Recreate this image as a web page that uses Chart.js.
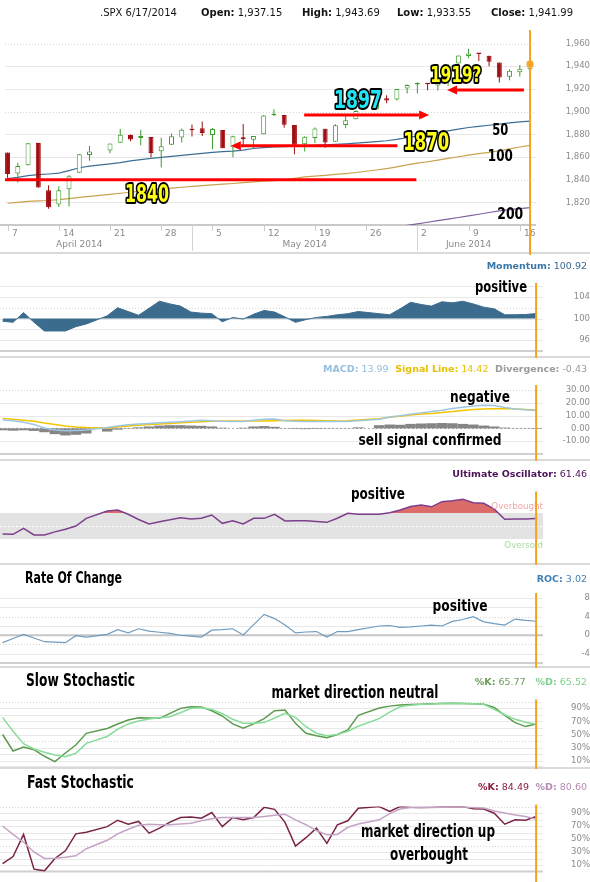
<!DOCTYPE html>
<html>
<head>
<meta charset="utf-8">
<title>.SPX 6/17/2014</title>
<script src="https://cdn.jsdelivr.net/npm/chart.js@4.4.1/dist/chart.umd.min.js"></script>
<style>
  html, body { margin: 0; padding: 0; background: #fff; }
  #board { position: relative; width: 590px; height: 882px; overflow: hidden; background: #fff; }
  #board canvas { position: absolute; left: 0; }
</style>
</head>
<body>
<div id="board">
  <canvas id="pPrice" width="590" height="255" style="top:0px"></canvas>
  <canvas id="pMom"   width="590" height="103" style="top:255px"></canvas>
  <canvas id="pMacd"  width="590" height="103" style="top:358px"></canvas>
  <canvas id="pUlt"   width="590" height="104" style="top:461px"></canvas>
  <canvas id="pRoc"   width="590" height="103" style="top:565px"></canvas>
  <canvas id="pSlow"  width="590" height="101" style="top:668px"></canvas>
  <canvas id="pFast"  width="590" height="113" style="top:769px"></canvas>
</div>
<script>
// ---------------- data ----------------
const symbol = '.SPX';
const dates = [
  '2014-04-07','2014-04-08','2014-04-09','2014-04-10','2014-04-11',
  '2014-04-14','2014-04-15','2014-04-16','2014-04-17',
  '2014-04-21','2014-04-22','2014-04-23','2014-04-24','2014-04-25',
  '2014-04-28','2014-04-29','2014-04-30','2014-05-01','2014-05-02',
  '2014-05-05','2014-05-06','2014-05-07','2014-05-08','2014-05-09',
  '2014-05-12','2014-05-13','2014-05-14','2014-05-15','2014-05-16',
  '2014-05-19','2014-05-20','2014-05-21','2014-05-22','2014-05-23',
  '2014-05-27','2014-05-28','2014-05-29','2014-05-30',
  '2014-06-02','2014-06-03','2014-06-04','2014-06-05','2014-06-06',
  '2014-06-09','2014-06-10','2014-06-11','2014-06-12','2014-06-13',
  '2014-06-16','2014-06-17'
];
const open = [
  1863.92, 1845.48, 1852.64, 1872.28, 1830.65,
  1818.18, 1831.45, 1846.01, 1861.73,
  1865.79, 1872.57, 1879.32, 1876.66, 1877.72,
  1865.00, 1870.78, 1877.10, 1884.39, 1885.30,
  1879.45, 1883.69, 1868.53, 1877.39, 1875.27,
  1880.03, 1896.75, 1897.13, 1888.16, 1871.19,
  1876.66, 1884.88, 1873.34, 1888.19, 1893.32,
  1902.01, 1911.77, 1910.60, 1920.33,
  1923.87, 1925.00, 1923.06, 1928.52, 1942.41,
  1948.97, 1951.00, 1949.37, 1943.35, 1930.80,
  1934.84, 1937.15
];
const high = [
  1864.04, 1854.95, 1872.43, 1872.53, 1835.07,
  1834.19, 1844.02, 1862.31, 1869.63,
  1871.89, 1884.89, 1879.75, 1884.06, 1877.72,
  1877.01, 1880.60, 1885.20, 1888.59, 1891.33,
  1885.51, 1883.69, 1878.83, 1889.07, 1878.57,
  1897.13, 1902.17, 1897.13, 1888.16, 1878.28,
  1886.00, 1884.88, 1888.80, 1896.33, 1901.26,
  1912.28, 1914.46, 1920.03, 1924.03,
  1925.88, 1925.07, 1928.63, 1941.74, 1949.44,
  1955.55, 1950.86, 1949.37, 1943.35, 1937.30,
  1941.15, 1943.69
];
const low = [
  1841.48, 1837.49, 1852.38, 1832.90, 1814.36,
  1815.80, 1816.29, 1846.01, 1856.72,
  1863.18, 1872.57, 1873.91, 1870.24, 1859.70,
  1850.61, 1870.78, 1872.69, 1878.04, 1878.50,
  1866.77, 1867.72, 1859.79, 1870.05, 1867.02,
  1880.03, 1896.06, 1885.77, 1862.36, 1864.82,
  1872.42, 1868.14, 1873.34, 1885.39, 1893.32,
  1902.01, 1907.30, 1909.82, 1915.98,
  1915.98, 1918.79, 1918.60, 1922.93, 1942.41,
  1947.16, 1944.64, 1940.08, 1925.78, 1927.69,
  1930.91, 1933.55
];
const close = [
  1845.04, 1851.96, 1872.18, 1833.08, 1815.69,
  1830.61, 1842.98, 1862.31, 1864.85,
  1871.89, 1879.55, 1875.39, 1878.61, 1863.40,
  1869.43, 1878.33, 1883.95, 1883.68, 1881.14,
  1884.66, 1867.72, 1878.21, 1875.63, 1878.48,
  1896.65, 1897.45, 1888.53, 1870.85, 1877.86,
  1885.08, 1872.83, 1888.03, 1892.49, 1900.53,
  1911.91, 1909.78, 1920.03, 1923.57,
  1924.97, 1924.24, 1927.88, 1940.46, 1949.44,
  1951.27, 1950.79, 1943.89, 1930.11, 1936.16,
  1937.78, 1941.99
];
const ma50 = [
  1841, 1842, 1843.5, 1844.5, 1845, 1845.7, 1848, 1850.5, 1852,
  1854, 1855, 1856.5, 1857.7, 1858.7, 1859.7, 1860.5, 1861.4, 1862.3, 1863.2,
  1864.1, 1864.7, 1865.2, 1866, 1867.5, 1868.3, 1868.8, 1869.1, 1869.5, 1869.9,
  1870.3, 1870.7, 1871.1, 1871.6, 1872.2,
  1873.5, 1874.3, 1875.5, 1877,
  1878.5, 1880, 1881.5, 1883, 1884.5,
  1886, 1887, 1888, 1889, 1890,
  1891, 1891.7
];
const ma100 = [
  1819.2, 1820, 1820.8, 1821.3, 1821.6, 1822.3, 1823.2, 1824.3, 1825.3,
  1827, 1828, 1828.9, 1829.9, 1830.8, 1831.7, 1832.5, 1833.3, 1834, 1834.8,
  1835.4, 1836, 1836.6, 1837.3, 1838, 1838.6, 1839.2, 1840, 1841.2, 1842.4,
  1843.1, 1843.8, 1844.6, 1845.4, 1846.3,
  1848.5, 1849.8, 1851.3, 1853,
  1854.6, 1855.8, 1857.2, 1858.7, 1860.2,
  1861.7, 1862.9, 1864, 1865.5, 1867.2,
  1868.8, 1870.3
];
const ma200 = [
  null, null, null, null, null, null, null, null, null,
  null, null, null, null, null, null, null, null, null, null,
  null, null, null, null, null, null, null, null, null, null,
  null, null, null, null, null,
  null, null, null, 1799.6,
  1801, 1802.4, 1803.8, 1805.2, 1806.6,
  1808, 1809.5, 1811, 1812.4, 1813.6,
  1814.5, 1815.3
];
const priceTicks = [1820, 1840, 1860, 1880, 1900, 1920, 1940, 1960];
const weekTicks = ['2014-04-07','2014-04-14','2014-04-21','2014-04-28','2014-05-05','2014-05-12',
                   '2014-05-19','2014-05-26','2014-06-02','2014-06-09','2014-06-16'];
const monthNames = ['April 2014', 'May 2014', 'June 2014'];
const monthLabelDates = ['2014-04-16', '2014-05-16', '2014-06-09'];
const levelValues = [1840, 1870, 1897, 1919];
const levelTexts = ['1840', '1870', '1897', '1919?'];

const momentum = [
  99.5, 99.3, 101.1, 99.3, 97.7, 97.7, 97.7, 98.5, 99.0,
  100.5, 102.0, 101.3, 100.6, 101.9, 103.2, 102.7, 102.3, 101.2, 101.0,
  100.9, 99.4, 100.2, 99.9, 100.8, 101.5, 101.2, 100.3, 99.3, 99.8,
  100.2, 100.4, 100.7, 100.9, 101.3,
  100.9, 100.7, 101.8, 103.0,
  102.6, 102.3, 103.1, 102.9, 103.2,
  102.7, 102.1, 101.8, 100.7, 100.7,
  100.75, 100.92
];
const momentumTicks = [96, 100, 104];

const macdLine = [
  6.5, 5.9, 4.8, 3.0, 0.3, -1.2, -1.9, -1.6, -1.2,
  0.6, 1.8, 2.9, 3.4, 3.9, 4.3, 4.7, 5.2, 5.8, 6.4,
  6.0, 5.5, 5.3, 5.4, 6.4, 7.2, 7.3, 6.0, 5.5, 5.3,
  5.3, 5.3, 5.3, 5.4, 6.0,
  7.2, 8.8, 9.8, 11.0,
  12.1, 13.2, 14.2, 15.5, 16.5,
  17.4, 18.1, 17.8, 16.3, 15.2,
  14.5, 13.99
];
const signalLine = [
  7.8, 7.1, 6.4, 5.6, 4.2, 3.0, 1.8, 1.0, 0.6,
  0.2, 1.0, 1.9, 2.5, 3.0, 3.4, 3.9, 4.4, 4.8, 5.2,
  5.5, 5.7, 5.8, 5.8, 5.8, 5.8, 6.0, 6.2, 6.4, 6.4,
  6.2, 6.0, 5.8, 5.9, 6.6,
  7.5, 8.6, 9.4, 10.4,
  11.2, 11.7, 12.3, 13.1, 13.9,
  14.7, 15.2, 15.4, 15.5, 15.2,
  14.8, 14.42
];
const divergence = [
  -1.5, -1.8, -1.5, -2.0, -3.0, -4.5, -5.5, -5.0, -4.0,
  -2.5, -1.0, 0.3, 0.8, 1.5, 2.2, 2.5, 2.5, 2.2, 2.0,
  1.5, 0.5, 0.0, 0.5, 1.5, 1.8, 1.2, 0.2, -0.5, -0.6,
  -0.5, -0.3, -0.2, 0.2, 0.8,
  2.5, 3.0, 2.8, 3.5,
  3.8, 4.0, 4.2, 4.0, 3.5,
  3.0, 2.2, 1.5, 0.6, 0.2,
  -0.2, -0.43
];
const macdTicks = [-10, 0, 10, 20, 30];

const ultimate = [
  37.6, 37.2, 46.4, 36.2, 36.2, 41.0, 45.0, 50.0, 61.8,
  73.1, 74.6, 68.0, 60.0, 53.1, 56.7, 59.5, 62.8, 60.8, 61.8,
  66.9, 54.1, 58.2, 53.1, 61.8, 61.8, 68.0, 57.7, 58.0, 58.2,
  57.0, 55.6, 62.0, 69.5, 68.0,
  68.0, 70.5, 74.6, 80.0,
  82.3, 79.5, 87.4, 89.0, 91.0,
  85.9, 84.9, 76.0, 60.3, 60.8,
  60.8, 61.46
];
const ultimateBands = [30, 70];

const roc = [
  -1.6, -0.7, 0.2, -0.6, -1.4, -1.5, -1.6, -0.1, -0.4,
  0.2, 1.2, 0.5, 1.4, 0.9, 0.65, 0.4, 0.0, -0.2, -0.4,
  1.1, 1.2, 1.4, 0.07, 2.3, 4.5, 3.6, 2.2, 0.5, 0.7,
  0.8, -0.4, 0.8, 0.8, 1.2,
  2.0, 2.1, 1.7, 1.8,
  2.0, 2.2, 2.0, 3.0, 3.4,
  4.0, 2.9, 2.5, 2.2, 3.5,
  3.2, 3.02
];
const rocTicks = [-4, 0, 4, 8];

const slowK = [
  50, 25, 31, 27, 17, 9, 22, 34, 51.8,
  59, 66, 72, 75.5, 75, 74.5, 82, 89.6, 92.1, 91.5,
  86, 78, 66, 59.5, 66, 74, 86, 87, 66.9, 51.8,
  48, 45.2, 50, 56.8, 79,
  90, 93, 94.7, 95.5,
  96, 96.5, 97, 97.3, 97,
  96.5, 95.7, 91, 79, 68,
  62, 65.77
];
const slowD = [
  76, 55, 36, 28, 23, 19, 16.4, 21.5, 36.6,
  47, 58, 66, 70.5, 73.5, 75.5, 77, 83, 89.6, 90.5,
  88, 81.5, 73, 67, 66.9, 68, 75, 82, 76, 61.8,
  52, 48, 50, 55, 62.5,
  74, 84, 92, 94.5,
  95.7, 96.2, 96.8, 97.2, 97,
  96.5, 95.7, 88, 80, 73,
  68.5, 65.52
];
const fastK = [
  12, 23, 57, 3.6, 1, 20, 31.8, 57.9, 60.5,
  69, 78.9, 72.8, 77, 59, 66.7, 76, 83, 84, 82,
  90.8, 69, 83, 79.5, 83, 98.7, 95.6, 75.6, 39, 52,
  66.7, 43.3, 71.8, 78, 97.4,
  99.9, 92.3, 99.9, 99,
  98.5, 99, 99.5, 99.7, 99.9,
  96.4, 96, 89.7, 72.8, 79.5,
  79, 84.49
];
const fastD = [
  70, 57, 45, 30, 20, 20.3, 22, 24.1, 35,
  48, 58, 65, 71, 72.5, 72, 71.8, 73, 74.4, 78,
  81, 83, 83.1, 83.1, 83.1, 84.5, 86.5, 88, 79.5, 72,
  63, 56.4, 57, 68, 73,
  79.5, 89, 96, 98.5,
  98.7, 98.5, 98.8, 99.2, 99.4,
  98.5, 97.6, 93, 90, 87,
  84.7, 80.6
];
const stochTicks = [10, 30, 50, 70, 90];

// ---------------- helpers ----------------
const FONT = '"DejaVu Sans", Verdana, sans-serif';
const COND = '"Liberation Sans Narrow", "DejaVu Sans Condensed", "Liberation Sans", Arial, sans-serif';
const ORANGE = '#f7a21b';
const UP = '#3d9b2b', DOWN = '#a00d12';

// weekday slot: Monday of the first week is 0, one slot per weekday (holidays leave a gap)
const t0 = Date.UTC(2014, 3, 7);
function slotOf(d) {
  const [y, m, dd] = d.split('-').map(Number);
  const days = Math.round((Date.UTC(y, m - 1, dd) - t0) / 864e5);
  return Math.floor(days / 7) * 5 + (days % 7);
}
const slots = dates.map(slotOf);
const last = dates.length - 1;
const series = arr => arr.map((v, i) => ({ x: slots[i], y: v })).filter(p => p.y != null);

const X_MIN = -0.25, PRICE_X_MAX = 51.58, IND_X_MAX = 51.66;
const PRICE_RIGHT = 536, IND_RIGHT = 543;

const mctx = document.createElement('canvas').getContext('2d');
function textWidth(t, font) { mctx.font = font; return mctx.measureText(t).width; }
const crisp = v => Math.round(v) + 0.5;

function hLine(ctx, x0, x1, y, color, w, dash) {
  ctx.save();
  ctx.strokeStyle = color; ctx.lineWidth = w;
  ctx.setLineDash(dash || []);
  ctx.beginPath(); ctx.moveTo(x0, y); ctx.lineTo(x1, y); ctx.stroke();
  ctx.restore();
}
function vLine(ctx, x, y0, y1, color, w) {
  ctx.save();
  ctx.strokeStyle = color; ctx.lineWidth = w;
  ctx.beginPath(); ctx.moveTo(x, y0); ctx.lineTo(x, y1); ctx.stroke();
  ctx.restore();
}
// bold condensed caption squeezed to a given width, centred on (cx, cy)
function fitText(ctx, text, cx, cy, w, size, fill, stroke, lw) {
  ctx.save();
  ctx.font = `bold ${size}px ${COND}`;
  const m = ctx.measureText(text);
  const sx = w / m.width;
  ctx.translate(cx, cy + (m.actualBoundingBoxAscent - m.actualBoundingBoxDescent) / 2);
  ctx.scale(sx, 1);
  ctx.textAlign = 'center'; ctx.textBaseline = 'alphabetic';
  if (stroke) {
    ctx.lineJoin = 'round'; ctx.lineWidth = lw; ctx.strokeStyle = stroke;
    ctx.strokeText(text, 0, 0);
  }
  ctx.fillStyle = fill; ctx.fillText(text, 0, 0);
  ctx.restore();
}
// right-aligned run of label/value pieces
function readout(ctx, parts, right, y, size) {
  ctx.save();
  ctx.textBaseline = 'middle'; ctx.textAlign = 'left';
  let x = right;
  for (let i = parts.length - 1; i >= 0; i--) {
    const p = parts[i];
    ctx.font = `${p.b ? 'bold ' : ''}${size}px ${FONT}`;
    x -= ctx.measureText(p.t).width;
    ctx.fillStyle = p.c;
    ctx.fillText(p.t, x, y);
  }
  ctx.restore();
}
function arrowLine(ctx, x0, x1, y, withHead) {
  ctx.save();
  ctx.strokeStyle = ctx.fillStyle = '#ff0000';
  ctx.lineWidth = 3;
  const head = withHead ? 10 : 0, half = 4.5, s = Math.sign(x1 - x0);
  ctx.beginPath(); ctx.moveTo(x0, y); ctx.lineTo(x1 - s * head, y); ctx.stroke();
  if (withHead) {
    ctx.beginPath();
    ctx.moveTo(x1, y); ctx.lineTo(x1 - s * head, y - half); ctx.lineTo(x1 - s * head, y + half);
    ctx.closePath(); ctx.fill();
  }
  ctx.restore();
}

function xAxis(max) {
  return { type: 'linear', min: X_MIN, max, display: false, offset: false };
}
function yAxis({ min, max, ticks, fmt, labelRight, plotRight }) {
  const size = 8.5;
  const widest = Math.max(...ticks.map(v => textWidth(fmt(v), `${size}px ${FONT}`)));
  return {
    position: 'right', min, max,
    grid: { display: false, drawTicks: false },
    border: { display: false },
    afterBuildTicks: s => { s.ticks = ticks.map(v => ({ value: v })); },
    afterFit: s => { s.width = 590 - plotRight; s.paddingTop = 0; s.paddingBottom = 0; },
    ticks: {
      callback: v => fmt(v), color: '#8c8c8c', font: { family: FONT, size },
      padding: labelRight - plotRight - widest, crossAlign: 'far', autoSkip: false, maxRotation: 0
    }
  };
}
const baseOptions = (padding, scales) => ({
  responsive: false, animation: false, events: [],
  layout: { padding },
  plugins: { legend: { display: false }, tooltip: { enabled: false } },
  elements: { point: { radius: 0 }, line: { tension: 0 } },
  scales
});

// ---------------- price panel ----------------
const upDay = close.map((c, i) => c >= open[i]);
const candleColor = upDay.map(u => (u ? UP : DOWN));
const bodyFill = upDay.map(u => (u ? '#ffffff' : DOWN));

const levelMarks = [
  { from: X_MIN, to: 39.9, head: false, at: [13.6, 1828.2], fill: '#ffff14', size: 24, w: 44 },
  { from: 38.05, to: 21.8, head: true, at: [40.86, 1874.1], fill: '#ffff14', size: 24, w: 46 },
  { from: 28.95, to: 41.15, head: true, at: [34.2, 1911.1], fill: '#1fe6f4', size: 24, w: 48 },
  { from: 50.4, to: 42.9, head: true, at: [43.75, 1933.2], fill: '#ffff14', size: 21, w: 51 }
];
const maLabels = [
  { text: '50', at: [48.1, 1884.7], w: 16 },
  { text: '100', at: [48.1, 1861.7], w: 25 },
  { text: '200', at: [49.07, 1810.6], w: 26 }
];

const pricePlugin = {
  id: 'priceDeco',
  beforeDatasetsDraw(chart) {
    const { ctx, chartArea: a, scales: { x, y } } = chart;
    priceTicks.forEach(v => {
      const dotted = (v - 1840) % 60 === 0;
      hLine(ctx, a.left, a.right, crisp(y.getPixelForValue(v)), dotted ? '#d6d6d6' : '#e8e8e8', 1, dotted ? [1, 2] : null);
    });
    // time axis
    const base = a.bottom;
    hLine(ctx, 0, a.right, base, '#c9c9c9', 2);
    ctx.save();
    ctx.font = `9px ${FONT}`; ctx.fillStyle = '#8a8a8a'; ctx.textBaseline = 'middle';
    weekTicks.forEach(d => {
      const px = crisp(x.getPixelForValue(slotOf(d)));
      vLine(ctx, px, base, base + 6, '#cccccc', 1);
      ctx.textAlign = 'left';
      ctx.fillText(String(Number(d.slice(8))), px + 3.5, base + 9);
    });
    dates.forEach((d, i) => {
      if (i > 0 && d.slice(5, 7) !== dates[i - 1].slice(5, 7)) {
        vLine(ctx, crisp(x.getPixelForValue(slots[i])), base, base + 26, '#d4d4d4', 1);
      }
    });
    ctx.textAlign = 'center';
    monthNames.forEach((m, i) => ctx.fillText(m, x.getPixelForValue(slotOf(monthLabelDates[i])), base + 20));
    ctx.restore();
  },
  afterDatasetsDraw(chart) {
    const { ctx, chartArea: a, scales: { x, y }, width, height } = chart;
    levelMarks.forEach((lm, i) => {
      arrowLine(ctx, x.getPixelForValue(lm.from), x.getPixelForValue(lm.to), y.getPixelForValue(levelValues[i]), lm.head);
    });
    maLabels.forEach(l => fitText(ctx, l.text, x.getPixelForValue(l.at[0]), y.getPixelForValue(l.at[1]), l.w, 15, '#000'));
    levelMarks.forEach((lm, i) => {
      fitText(ctx, levelTexts[i], x.getPixelForValue(lm.at[0]), y.getPixelForValue(lm.at[1]), lm.w, lm.size, lm.fill, '#000', 4);
    });
    // quote header
    const fmt = v => v.toLocaleString('en-US', { minimumFractionDigits: 2, maximumFractionDigits: 2 });
    const [yy, mm, dd] = dates[last].split('-').map(Number);
    const head = [
      { x: 100, parts: [{ t: `${symbol} ${mm}/${dd}/${yy}` }] },
      { x: 201, parts: [{ t: 'Open:', b: true }, { t: ' ' + fmt(open[last]) }] },
      { x: 302, parts: [{ t: 'High:', b: true }, { t: ' ' + fmt(high[last]) }] },
      { x: 397, parts: [{ t: 'Low:', b: true }, { t: ' ' + fmt(low[last]) }] },
      { x: 491, parts: [{ t: 'Close:', b: true }, { t: ' ' + fmt(close[last]) }] }
    ];
    ctx.save();
    ctx.textBaseline = 'middle'; ctx.textAlign = 'left'; ctx.fillStyle = '#141414';
    head.forEach(h => {
      let hx = h.x;
      h.parts.forEach(p => {
        ctx.font = `${p.b ? 'bold ' : ''}10px ${FONT}`;
        ctx.fillText(p.t, hx, 13);
        hx += ctx.measureText(p.t).width;
      });
    });
    ctx.restore();
    ctx.fillStyle = '#dadada'; ctx.fillRect(0, height - 3, width, 2);
    vLine(ctx, x.getPixelForValue(slots[last]), a.top, height, ORANGE, 2);
  }
};

new Chart(document.getElementById('pPrice'), {
  type: 'bar',
  data: {
    datasets: [
      { type: 'line', data: series(ma200), borderColor: '#80609f', borderWidth: 1.2, pointRadius: 0, order: 6 },
      { type: 'line', data: series(ma100), borderColor: '#c9a24e', borderWidth: 1.2, pointRadius: 0, order: 5 },
      { type: 'line', data: series(ma50), borderColor: '#3d6f96', borderWidth: 1.2, pointRadius: 0, order: 4 },
      {
        type: 'bar', data: dates.map((d, i) => ({ x: slots[i], y: [low[i], high[i]] })),
        backgroundColor: candleColor, borderWidth: 0, barThickness: 1, grouped: false, inflateAmount: 0, order: 3
      },
      {
        type: 'bar', data: dates.map((d, i) => ({ x: slots[i], y: [open[i], close[i]] })),
        backgroundColor: bodyFill, borderColor: candleColor, borderWidth: 1, borderSkipped: false,
        barThickness: 5, grouped: false, minBarLength: 1.5, inflateAmount: 0, order: 2
      },
      {
        type: 'line', data: [{ x: slots[last], y: close[last] }], showLine: false,
        pointRadius: 3.5, pointStyle: 'rectRounded', backgroundColor: '#f6a531', borderColor: '#f6a531', order: 0
      }
    ]
  },
  options: baseOptions({ left: 0, right: 0, top: 30, bottom: 30 }, {
    x: xAxis(PRICE_X_MAX),
    y: yAxis({ min: 1800, max: 1972, ticks: priceTicks, fmt: v => v.toLocaleString('en-US'), labelRight: 565, plotRight: PRICE_RIGHT })
  }),
  plugins: [pricePlugin]
});

// ---------------- indicator panels ----------------
function decoPlugin(spec) {
  return {
    id: 'deco',
    beforeDatasetsDraw(chart) {
      const { ctx, chartArea: a, scales: { y } } = chart;
      if (spec.band) {
        const yt = y.getPixelForValue(spec.band[1]), yb = y.getPixelForValue(spec.band[0]);
        ctx.save(); ctx.fillStyle = '#e3e3e3'; ctx.fillRect(a.left, yt, a.right - a.left, yb - yt); ctx.restore();
        hLine(ctx, a.left, a.right, crisp(y.getPixelForValue((spec.band[0] + spec.band[1]) / 2)), '#ffffff', 1, [2, 2]);
      }
      (spec.grid || []).forEach(v => {
        const dotted = (spec.dotted || []).includes(v);
        hLine(ctx, a.left, a.right, crisp(y.getPixelForValue(v)), dotted ? '#d4d4d4' : '#e8e8e8', 1, dotted ? [1, 2] : null);
      });
      if (spec.zero) hLine(ctx, a.left, a.right, y.getPixelForValue(0), spec.zero.color, spec.zero.width, spec.zero.dash);
      if (spec.axisLine) hLine(ctx, a.left, a.right, a.bottom, '#cfcfcf', 2);
    },
    afterDatasetsDraw(chart) {
      const { ctx, chartArea: a, scales: { x }, width, height } = chart;
      (spec.texts || []).forEach(t => fitText(ctx, t.text, t.cx, t.cy, t.w, t.size, '#000'));
      (spec.notes || []).forEach(n => {
        ctx.save();
        ctx.font = `8.7px ${FONT}`; ctx.fillStyle = n.color; ctx.textAlign = 'right'; ctx.textBaseline = 'middle';
        ctx.fillText(n.text, a.right, n.y);
        ctx.restore();
      });
      readout(ctx, spec.readout, 587, spec.readoutY, 9.5);
      if (spec.separator !== false) { ctx.fillStyle = '#dadada'; ctx.fillRect(0, height - 2, width, 2); }
      vLine(ctx, x.getPixelForValue(slots[last]), a.top - 2, height, ORANGE, 2);
    }
  };
}
function indicatorChart(id, { top, height, plotTop, plotBottom, y, datasets, deco }) {
  const padRight = y.display === false ? 590 - IND_RIGHT : 0;
  return new Chart(document.getElementById(id), {
    type: 'line',
    data: { datasets },
    options: baseOptions({ left: 0, right: padRight, top: plotTop - top, bottom: top + height - plotBottom }, { x: xAxis(IND_X_MAX), y }),
    plugins: [decoPlugin(deco)]
  });
}
const v2 = v => v.toFixed(2);

// Momentum
indicatorChart('pMom', {
  top: 255, height: 103, plotTop: 285, plotBottom: 351,
  y: yAxis({ min: 94, max: 106.2, ticks: momentumTicks, fmt: v => String(v), labelRight: 565, plotRight: IND_RIGHT }),
  datasets: [{
    data: series(momentum), borderColor: '#3b6c8e', borderWidth: 1, backgroundColor: '#3b6c8e',
    fill: { value: 100 }
  }],
  deco: {
    grid: [96, 98, 100, 102, 104, 106], dotted: [102], axisLine: true,
    texts: [{ text: 'positive', cx: 501, cy: 32, w: 52, size: 16 }],
    readout: [{ t: 'Momentum:', b: true, c: '#3a78aa' }, { t: ' ' + v2(momentum[last]), c: '#3a6a94' }],
    readoutY: 12
  }
});

// MACD
indicatorChart('pMacd', {
  top: 358, height: 103, plotTop: 387, plotBottom: 454,
  y: yAxis({ min: -20, max: 32.3, ticks: macdTicks, fmt: v => v.toFixed(2), labelRight: 576, plotRight: IND_RIGHT }),
  datasets: [
    { type: 'bar', data: series(divergence), backgroundColor: '#858585', barPercentage: 1, categoryPercentage: 1, grouped: false, inflateAmount: 0, order: 3 },
    { data: series(signalLine), borderColor: '#f2c500', borderWidth: 1.5, order: 2 },
    { data: series(macdLine), borderColor: '#9dc6e3', borderWidth: 1.5, order: 1 }
  ],
  deco: {
    grid: [30, 20, 10, -10], dotted: [30], axisLine: true,
    zero: { color: '#a8a8a8', width: 1, dash: [2, 2] },
    texts: [
      { text: 'negative', cx: 480, cy: 39, w: 60, size: 16 },
      { text: 'sell signal confirmed', cx: 430, cy: 82, w: 143, size: 16 }
    ],
    readout: [
      { t: 'MACD:', b: true, c: '#94c1e0' }, { t: ' ' + v2(macdLine[last]), c: '#94c1e0' },
      { t: '  Signal Line:', b: true, c: '#e6bf00' }, { t: ' ' + v2(signalLine[last]), c: '#e6bf00' },
      { t: '  Divergence:', b: true, c: '#9a9a9a' }, { t: ' ' + v2(divergence[last]), c: '#9a9a9a' }
    ],
    readoutY: 12
  }
});

// Ultimate Oscillator
indicatorChart('pUlt', {
  top: 461, height: 104, plotTop: 493.5, plotBottom: 558.5,
  y: { display: false, min: 0, max: 100 },
  datasets: [{
    data: series(ultimate), borderColor: '#7d3f8c', borderWidth: 1.5,
    fill: { target: { value: ultimateBands[1] }, above: 'rgba(214,88,84,0.88)', below: 'rgba(0,0,0,0)' }
  }],
  deco: {
    band: ultimateBands,
    texts: [{ text: 'positive', cx: 378, cy: 33, w: 54, size: 16 }],
    notes: [{ text: 'Overbought', y: 46, color: '#f0a6a6' }, { text: 'Oversold', y: 85, color: '#a9d9a0' }],
    readout: [{ t: 'Ultimate Oscillator:', b: true, c: '#4b1259' }, { t: ' ' + v2(ultimate[last]), c: '#4b1259' }],
    readoutY: 14
  }
});

// Rate of Change
indicatorChart('pRoc', {
  top: 565, height: 103, plotTop: 595, plotBottom: 663,
  y: yAxis({ min: -6, max: 8.7, ticks: rocTicks, fmt: v => String(v), labelRight: 557, plotRight: IND_RIGHT }),
  datasets: [{ data: series(roc), borderColor: '#6f9cc0', borderWidth: 1.2 }],
  deco: {
    grid: [8, 6, 4, 2, -2, -4], dotted: [4, -2], axisLine: true,
    zero: { color: '#c6c6c6', width: 2 },
    texts: [
      { text: 'Rate Of Change', cx: 25 + 48.5, cy: 13, w: 97, size: 16 },
      { text: 'positive', cx: 460, cy: 41, w: 55, size: 16 }
    ],
    readout: [{ t: 'ROC:', b: true, c: '#3f7fb5' }, { t: ' ' + v2(roc[last]), c: '#3f7fb5' }],
    readoutY: 15
  }
});

// Slow Stochastic
indicatorChart('pSlow', {
  top: 668, height: 101, plotTop: 701.5, plotBottom: 767.5,
  y: yAxis({ min: 0, max: 100, ticks: stochTicks, fmt: v => v + '%', labelRight: 573, plotRight: IND_RIGHT }),
  datasets: [
    { data: series(slowD), borderColor: '#86dc98', borderWidth: 1.5 },
    { data: series(slowK), borderColor: '#5c9a4e', borderWidth: 1.5 }
  ],
  deco: {
    grid: [100, 90, 80, 70, 60, 50, 40, 30, 20, 10], dotted: [100, 40], axisLine: true,
    texts: [
      { text: 'Slow Stochastic', cx: 26 + 54.5, cy: 11, w: 109, size: 17 },
      { text: 'market direction neutral', cx: 355, cy: 23, w: 167, size: 17 }
    ],
    readout: [
      { t: '%K:', b: true, c: '#6c9c5a' }, { t: ' ' + v2(slowK[last]), c: '#6c9c5a' },
      { t: '   %D:', b: true, c: '#7fd18f' }, { t: ' ' + v2(slowD[last]), c: '#7fd18f' }
    ],
    readoutY: 15
  }
});

// Fast Stochastic
indicatorChart('pFast', {
  top: 769, height: 113, plotTop: 806.5, plotBottom: 871.5,
  y: yAxis({ min: 0, max: 100, ticks: stochTicks, fmt: v => v + '%', labelRight: 573, plotRight: IND_RIGHT }),
  datasets: [
    { data: series(fastD), borderColor: '#c4a4c4', borderWidth: 1.5 },
    { data: series(fastK), borderColor: '#7a2346', borderWidth: 1.5 }
  ],
  deco: {
    grid: [100, 90, 80, 70, 60, 50, 40, 30, 20, 10], dotted: [100, 40], axisLine: true, separator: false,
    texts: [
      { text: 'Fast Stochastic', cx: 27 + 53.5, cy: 12, w: 107, size: 17 },
      { text: 'market direction up', cx: 428, cy: 63, w: 134, size: 17 },
      { text: 'overbought', cx: 429, cy: 86, w: 78, size: 17 }
    ],
    readout: [
      { t: '%K:', b: true, c: '#8b1c3c' }, { t: ' ' + v2(fastK[last]), c: '#8b1c3c' },
      { t: '  %D:', b: true, c: '#b48bb4' }, { t: ' ' + v2(fastD[last]), c: '#b48bb4' }
    ],
    readoutY: 19
  }
});
</script>
</body>
</html>
